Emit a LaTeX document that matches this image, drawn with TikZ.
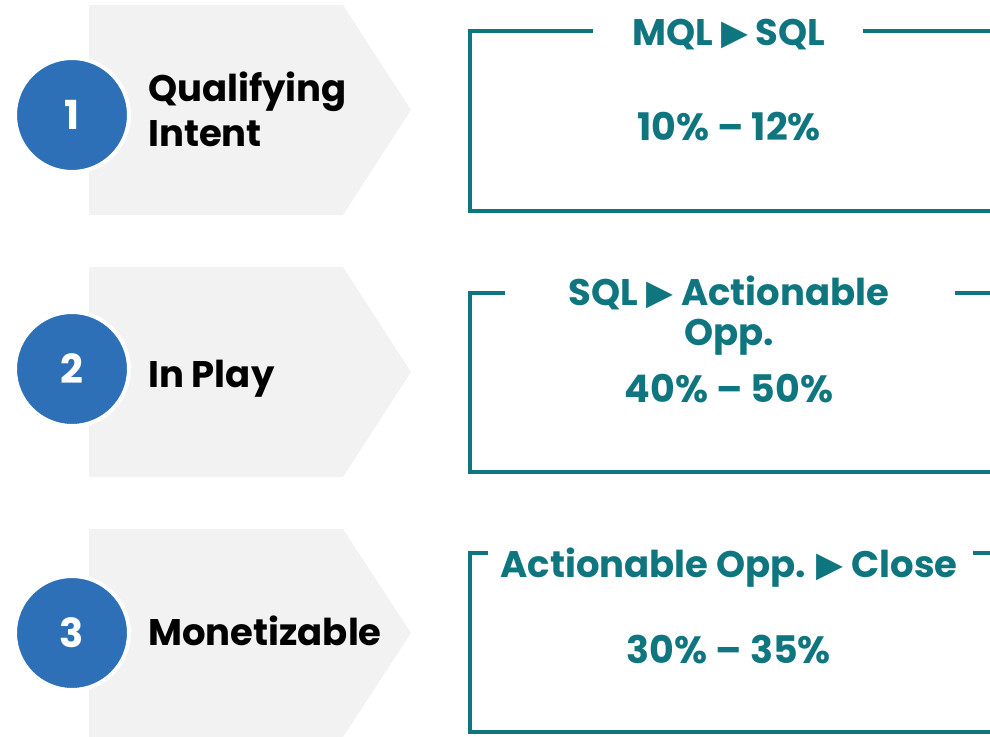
\documentclass[tikz,border=0pt]{standalone}
\usepackage{fontspec}
\setmainfont{Poppins}
\newfontfamily\dv{DejaVu Sans}
\definecolor{chev}{HTML}{F2F2F2}
\definecolor{numblue}{HTML}{2E70B8}
\definecolor{teal}{HTML}{0F7680}
\begin{document}
\begin{tikzpicture}[x=1pt,y=-1pt,
  chevron/.style={fill=chev},
  numcirc/.style={circle,fill=numblue,draw=white,line width=4pt,minimum size=114pt,inner sep=0pt,text=white,font=\fontsize{40}{40}\selectfont\bfseries},
  stagelbl/.style={anchor=base west,align=left,font=\fontsize{37}{45}\selectfont\bfseries,text=black,inner sep=0pt},
  bracket/.style={draw=teal,line width=3.6pt,line cap=butt,line join=miter},
  ttl/.style={anchor=base,align=center,text=teal,inner sep=0pt,font=\fontsize{37}{40}\selectfont\bfseries},
  pct/.style={anchor=base,text=teal,inner sep=0pt,font=\fontsize{38}{40}\selectfont\bfseries}]
\useasboundingbox (0,0) rectangle (990,736);
\newcommand{\tri}{{\dv\fontsize{35}{35}\selectfont\raisebox{1pt}{▶}}}
% chevrons
\fill[chevron] (89,5) -- (343,5) -- (411,110) -- (343,215) -- (89,215) -- cycle;
\fill[chevron] (89,267) -- (343,267) -- (411,372) -- (343,477) -- (89,477) -- cycle;
\fill[chevron] (89,529) -- (343,529) -- (411,633) -- (343,737) -- (89,737) -- cycle;
% circles
\node[numcirc] (c1) at (72,115) {1};
\node[numcirc] (c2) at (72,369) {2};
\node[numcirc] (c3) at (72,633) {3};
% stage labels (base = last line)
\node[stagelbl] (s1) at (148,146) {Qualifying\\Intent};
\node[stagelbl] (s2) at (148,387) {In Play};
\node[stagelbl] (s3) at (148,645) {Monetizable};
% brackets
\draw[bracket] (593,31) -- (470,31) -- (470,211) -- (990,211);
\draw[bracket] (863,31) -- (990,31);
\draw[bracket] (505,293) -- (470,293) -- (470,472) -- (990,472);
\draw[bracket] (955,293) -- (990,293);
\draw[bracket] (488,553) -- (470,553) -- (470,732) -- (990,732);
\draw[bracket] (973,553) -- (990,553);
% titles
\node[ttl] (t1) at (729,45) {MQL \tri{} SQL};
\node[pct] (p1) at (729,140) {10\% – 12\%};
\node[ttl] (t2) at (729,345) {SQL \tri{} Actionable\\Opp.};
\node[pct] (p2) at (729,402) {40\% – 50\%};
\node[ttl] (t3) at (729,577) {Actionable Opp. \tri{} Close};
\node[pct] (p3) at (729,663) {30\% – 35\%};
\end{tikzpicture}
\end{document}
